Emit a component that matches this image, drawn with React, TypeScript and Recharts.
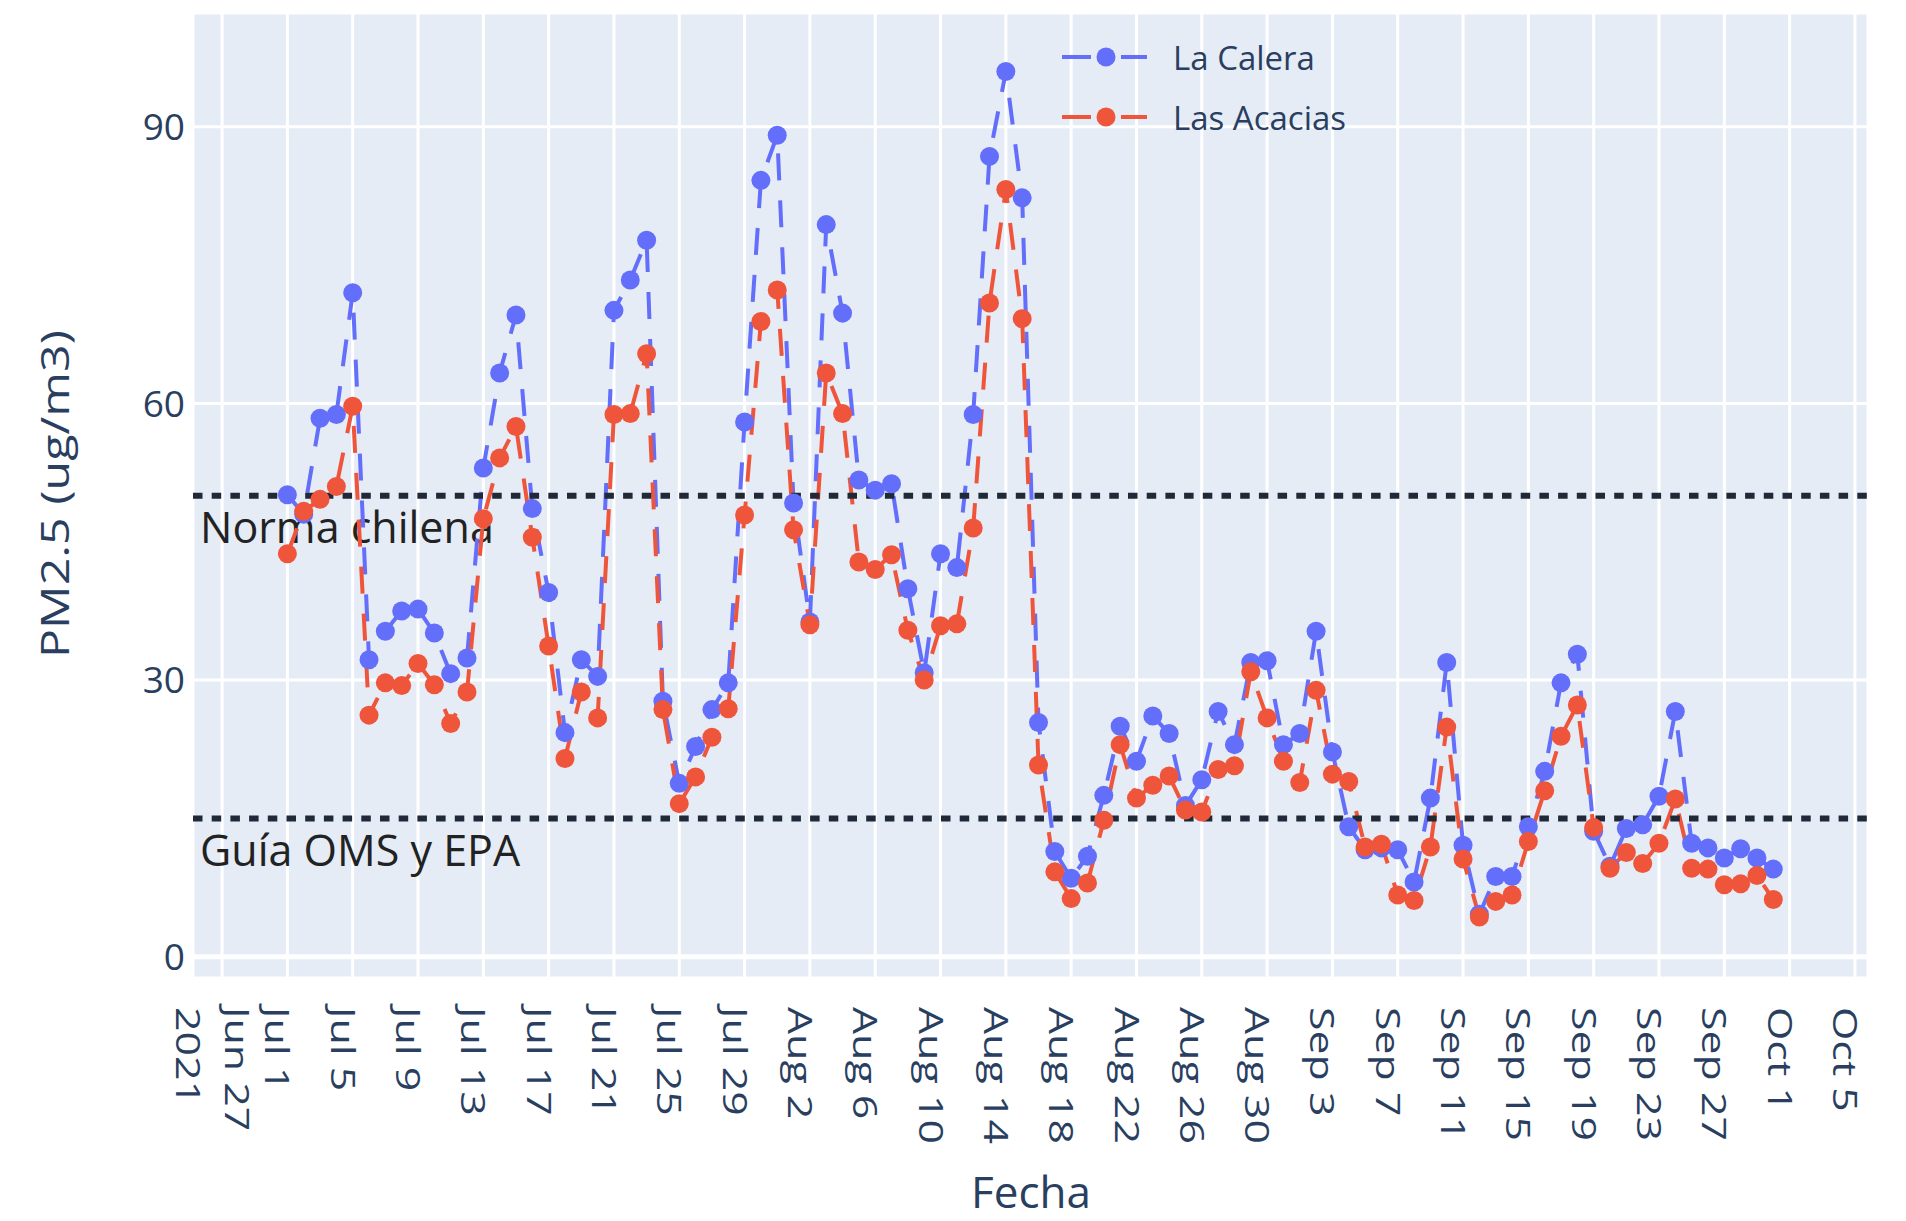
import { LineChart, Line, XAxis, YAxis, CartesianGrid, ReferenceLine } from 'recharts'

// daily PM2.5, day 0 = 1 Jul 2021 ... day 91 = 30 Sep 2021
const LA_CALERA = [
  50.1, 48.0, 58.4, 58.8, 72.0, 32.2, 35.3, 37.5, 37.7, 35.1, 30.7, 32.4, 53.0, 63.3, 69.6, 48.6,
  39.5, 24.3, 32.2, 30.4, 70.1, 73.4, 77.7, 27.7, 18.8, 22.8, 26.8, 29.7, 58.0, 84.2, 89.1, 49.2,
  36.3, 79.4, 69.8, 51.7, 50.6, 51.3, 39.9, 30.8, 43.7, 42.2, 58.8, 86.8, 96.0, 82.3, 25.4, 11.4,
  8.5, 10.9, 17.5, 25.0, 21.2, 26.1, 24.2, 16.4, 19.2, 26.6, 23.0, 31.9, 32.1, 23.0, 24.2, 35.3,
  22.2, 14.1, 11.6, 11.8, 11.6, 8.1, 17.2, 31.9, 12.1, 4.6, 8.7, 8.7, 14.1, 20.1, 29.7, 32.8,
  13.6, 9.8, 13.9, 14.3, 17.4, 26.6, 12.3, 11.8, 10.7, 11.7, 10.7, 9.5,
]
const LAS_ACACIAS = [
  43.7, 48.3, 49.6, 51.0, 59.7, 26.2, 29.7, 29.4, 31.8, 29.5, 25.3, 28.7, 47.5, 54.1, 57.5, 45.5,
  33.7, 21.5, 28.7, 25.9, 58.8, 58.9, 65.4, 26.8, 16.6, 19.5, 23.8, 26.9, 47.9, 68.9, 72.3, 46.3,
  36.0, 63.3, 58.9, 42.8, 42.0, 43.6, 35.4, 30.0, 35.9, 36.1, 46.5, 70.9, 83.2, 69.2, 20.8, 9.2,
  6.3, 8.0, 14.8, 23.0, 17.2, 18.6, 19.6, 15.9, 15.7, 20.3, 20.7, 30.9, 25.9, 21.2, 18.9, 28.9,
  19.8, 19.0, 11.9, 12.2, 6.7, 6.1, 11.9, 24.9, 10.6, 4.3, 6.0, 6.7, 12.5, 18.0, 23.9, 27.3,
  14.0, 9.6, 11.3, 10.1, 12.3, 17.1, 9.6, 9.5, 7.8, 7.9, 8.8, 6.2,
]
const X_TICKS = [-4, 0, 4, 8, 12, 16, 20, 24, 28, 32, 36, 40, 44, 48, 52, 56, 60, 64, 68, 72, 76, 80, 84, 88, 92, 96]
const X_LABELS = [
  'Jun 27|2021', 'Jul 1', 'Jul 5', 'Jul 9', 'Jul 13', 'Jul 17', 'Jul 21', 'Jul 25', 'Jul 29',
  'Aug 2', 'Aug 6', 'Aug 10', 'Aug 14', 'Aug 18', 'Aug 22', 'Aug 26', 'Aug 30',
  'Sep 3', 'Sep 7', 'Sep 11', 'Sep 15', 'Sep 19', 'Sep 23', 'Sep 27', 'Oct 1', 'Oct 5',
]
const Y_TICKS = [0, 30, 60, 90]
const LIMIT_VALUES = [50, 15]
const LIMIT_LABELS = ['Norma chilena', 'Guía OMS y EPA']
const SERIES = ['La Calera', 'Las Acacias']

const BLUE = '#636efa', RED = '#ef553b', INK = '#2a3f5f', BG = '#e5ecf6', DOTS = '#1f2937'
const FONT = '"Open Sans", sans-serif'
const W = 1906, H = 1221

const rows = LA_CALERA.map((v, i) => ({ day: i, calera: v, acacias: LAS_ACACIAS[i] }))

function XTick({ x, y, payload }: any) {
  const lines = (X_LABELS[X_TICKS.indexOf(payload.value)] || '').split('|')
  const cx = x - 9 + (lines.length - 1) * 24.5
  return (
    <g>
      {lines.map((t, i) => (
        <text key={i} transform={`translate(${cx - i * 49},${y + 27}) rotate(90) scale(1.3,1)`}
          dominantBaseline="central" fontSize={33} fontFamily={FONT} fill={INK}>{t}</text>
      ))}
    </g>
  )
}

const limitLabel = (txt: string) => (p: any) => (
  <text x={p.viewBox.x + 7} y={p.viewBox.y + 47.5} fontSize={43} fontFamily={FONT} fill="#222">{txt}</text>
)

function LegendBox() {
  const cols = [BLUE, RED]
  return (
    <svg width={400} height={160} style={{ position: 'absolute', left: 1040, top: 0 }}>
      {SERIES.map((s, i) => {
        const cy = 57 + i * 60
        return (
          <g key={s}>
            <line x1={22} x2={51} y1={cy} y2={cy} stroke={cols[i]} strokeWidth={4} />
            <line x1={81} x2={107} y1={cy} y2={cy} stroke={cols[i]} strokeWidth={4} />
            <circle cx={66} cy={cy} r={9.5} fill={cols[i]} />
            <text x={133} y={cy} dominantBaseline="central" fontSize={33} fontFamily={FONT} fill={INK}>{s}</text>
          </g>
        )
      })}
    </svg>
  )
}

export default function App() {
  return (
    <div style={{ position: 'absolute', left: 0, top: 0, width: W, height: H, background: '#fff' }}>
      <LineChart width={W} height={H} data={rows} margin={{ top: 13, right: 38, bottom: 0, left: 0 }}>
        <CartesianGrid fill={BG} stroke="#fff" strokeWidth={3} />
        <XAxis dataKey="day" type="number" domain={[-5.78, 96.8]} ticks={X_TICKS} interval={0}
          allowDataOverflow height={243} axisLine={false} tickLine={false} tickSize={0} tick={<XTick />}
          label={{ content: () => (
            <text x={1031} y={1208} textAnchor="middle" fontSize={44} fontFamily={FONT} fill={INK}>Fecha</text>
          ) }} />
        <YAxis type="number" domain={[-2.31, 102.35]} ticks={Y_TICKS} allowDataOverflow width={193}
          axisLine={false} tickLine={false} tickSize={0} tickMargin={8}
          tick={{ fontSize: 37, fontFamily: FONT, fill: INK }}
          label={{ content: () => (
            <text transform="translate(54,494) rotate(-90)" textAnchor="middle" dominantBaseline="central"
              fontSize={38} fontFamily={FONT} fill={INK} textLength={328} lengthAdjust="spacingAndGlyphs">PM2.5 (ug/m3)</text>
          ) }} />
        <ReferenceLine y={0} stroke="#fff" strokeWidth={5} />
        {LIMIT_VALUES.map((v, i) => (
          <ReferenceLine key={'t' + v} y={v} stroke="none" label={{ content: limitLabel(LIMIT_LABELS[i]) }} />
        ))}
        <Line type="linear" dataKey="calera" name={SERIES[0]} stroke={BLUE} strokeWidth={4}
          strokeDasharray="27 20" dot={{ r: 9.5, fill: BLUE, stroke: 'none', strokeDasharray: '' }}
          activeDot={false} isAnimationActive={false} />
        <Line type="linear" dataKey="acacias" name={SERIES[1]} stroke={RED} strokeWidth={4}
          strokeDasharray="27 20" dot={{ r: 9.5, fill: RED, stroke: 'none', strokeDasharray: '' }}
          activeDot={false} isAnimationActive={false} />
        {LIMIT_VALUES.map((v) => (
          <ReferenceLine key={'l' + v} y={v} stroke={DOTS} strokeWidth={6} strokeDasharray="9.5 9.2" />
        ))}
      </LineChart>
      <LegendBox />
    </div>
  )
}
